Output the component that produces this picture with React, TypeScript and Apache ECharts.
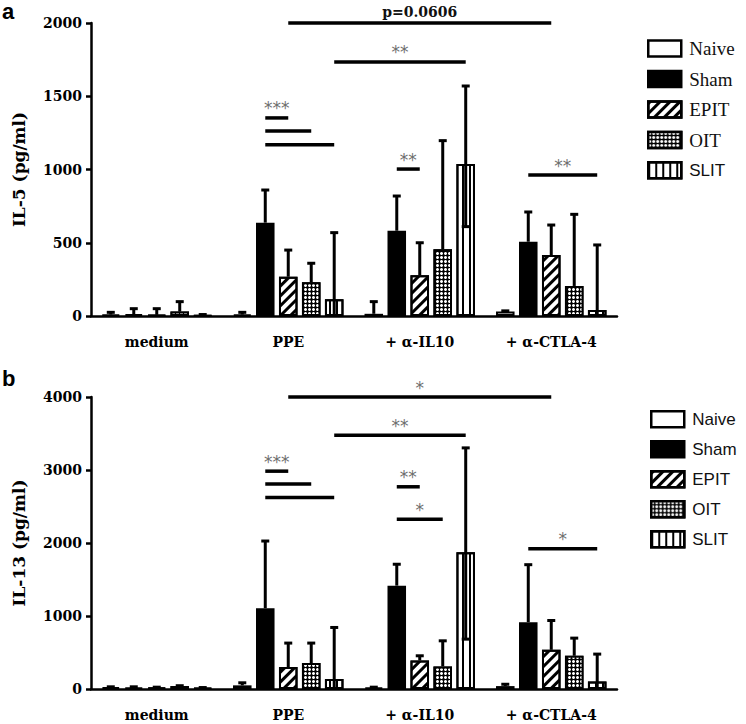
import React, { useEffect, useRef } from 'react';
import * as echarts from 'echarts';

// ---------- data ----------
const categories = ['medium', 'PPE', '+ α-IL10', '+ α-CTLA-4'];
const groupNames = ['Naive', 'Sham', 'EPIT', 'OIT', 'SLIT'];

// Panel a — IL-5 (pg/ml): bar heights (mean)
const il5Naive = [10, 10, 15, 30];
const il5Sham = [12, 637, 582, 507];
const il5Epit = [8, 268, 278, 416];
const il5Oit = [30, 230, 455, 205];
const il5Slit = [5, 114, 1038, 41];
// Panel a — upper end of error bars
const il5NaiveUp = [25, 25, 98, 35];
const il5ShamUp = [50, 860, 819, 710];
const il5EpitUp = [50, 450, 500, 621];
const il5OitUp = [98, 360, 1197, 694];
const il5SlitUp = [10, 569, 1570, 485];
// Panel a — lower end of error bars (visible in open SLIT bars)
const il5SlitLow = [0, 0, 610, 0];

// Panel b — IL-13 (pg/ml): bar heights (mean)
const il13Naive = [25, 50, 20, 40];
const il13Sham = [20, 1107, 1416, 916];
const il13Epit = [20, 301, 391, 537];
const il13Oit = [40, 355, 309, 455];
const il13Slit = [15, 137, 1873, 104];
// Panel b — upper end of error bars
const il13NaiveUp = [30, 85, 25, 65];
const il13ShamUp = [30, 2027, 1709, 1703];
const il13EpitUp = [25, 629, 455, 938];
const il13OitUp = [45, 629, 660, 697];
const il13SlitUp = [20, 843, 3303, 478];
// Panel b — lower end of error bars (visible in open SLIT bars)
const il13SlitLow = [0, 0, 683, 0];

// Significance bars, panel a
const sigAFromCat = [1, 1, 1, 1, 1, 2, 3];
const sigAFromBar = [2, 4, 1, 1, 1, 1, 1];
const sigAToCat = [3, 2, 1, 1, 1, 2, 3];
const sigAToBar = [2, 4, 2, 3, 4, 2, 4];
const sigAHeight = [2000, 1734, 1352, 1263, 1169, 1003, 962];
const sigALabel = ['p=0.0606', '**', '***', '', '', '**', '**'];

// Significance bars, panel b
const sigBFromCat = [1, 1, 1, 1, 1, 2, 2, 3];
const sigBFromBar = [2, 4, 1, 1, 1, 1, 1, 1];
const sigBToCat = [3, 2, 1, 1, 1, 2, 2, 3];
const sigBToBar = [2, 4, 2, 3, 4, 2, 3, 4];
const sigBHeight = [4000, 3477, 2984, 2807, 2625, 2770, 2324, 1922];
const sigBLabel = ['*', '**', '***', '', '', '**', '*', '*'];

// ---------- styles ----------
const CAT_GAP = 0.16;
const BAR_GAP = 0.24;
const NBARS = 5;
const SERIF = "'DejaVu Serif', 'Liberation Serif', serif";
const TIMES = "'Liberation Serif', serif";
const SANS = "'Liberation Sans', Arial, sans-serif";

const barStyles: any[] = [
  { color: '#ffffff', borderColor: '#000', borderWidth: 2 },
  { color: '#000000', borderColor: '#000', borderWidth: 2 },
  {
    color: '#ffffff', borderColor: '#000', borderWidth: 2,
    decal: { symbol: 'rect', symbolSize: 1, color: '#000', dashArrayX: [1, 0], dashArrayY: [3, 4], rotation: -Math.PI / 4 },
  },
  {
    color: '#000000', borderColor: '#000', borderWidth: 2,
    decal: { symbol: 'circle', symbolSize: 1, color: '#ffffff', dashArrayX: [3, 1], dashArrayY: [3, 1] },
  },
  {
    color: '#ffffff', borderColor: '#000', borderWidth: 2,
    decal: { symbol: 'rect', symbolSize: 1, color: '#000', dashArrayX: [2, 5], dashArrayY: [1, 0] },
  },
];

function barCenter(api: any, cat: number, bar: number) {
  const band = api.size([1, 0])[0];
  const group = band * (1 - CAT_GAP);
  const bw = group / (NBARS + (NBARS - 1) * BAR_GAP);
  return api.coord([cat, 0])[0] - group / 2 + bw / 2 + bar * bw * (1 + BAR_GAP);
}

function errRender(params: any, api: any) {
  const cat = api.value(0);
  const bar = api.value(1);
  const mean = api.value(2);
  const up = api.value(3);
  const low = api.value(4);
  const x = barCenter(api, cat, bar);
  const yUp = api.coord([cat, up])[1];
  const yLow = api.coord([cat, low])[1];
  const st = { stroke: '#000', lineWidth: 3 };
  const children: any[] = [
    { type: 'line', shape: { x1: x, y1: yLow, x2: x, y2: yUp }, style: st },
    { type: 'line', shape: { x1: x - 4, y1: yUp, x2: x + 4, y2: yUp }, style: st },
  ];
  if (low > 0 && low < mean) {
    children.push({ type: 'line', shape: { x1: x - 4, y1: yLow, x2: x + 4, y2: yLow }, style: st });
  }
  return { type: 'group', children };
}

function makeSigRender(labels: string[]) {
  return (params: any, api: any) => {
    const c1 = api.value(0), b1 = api.value(1), c2 = api.value(2), b2 = api.value(3), h = api.value(4);
    const x1 = barCenter(api, c1, b1);
    const x2 = barCenter(api, c2, b2);
    const y = api.coord([c1, h])[1];
    const label = labels[params.dataIndex];
    const children: any[] = [
      { type: 'line', shape: { x1, y1: y, x2, y2: y }, style: { stroke: '#000', lineWidth: 3.5 } },
    ];
    if (label) {
      const isP = label.startsWith('p');
      children.push({
        type: 'text',
        style: {
          text: label,
          x: (x1 + x2) / 2,
          y: y - (isP ? 4 : 1),
          align: 'center',
          verticalAlign: 'bottom',
          fill: isP ? '#111' : '#6e6e6e',
          font: isP ? `bold 14px ${SERIF}` : `17px 'DejaVu Sans', sans-serif`,
        },
      });
    }
    return { type: 'group', children };
  };
}

function errData(means: number[][], ups: number[][], slitLow: number[]) {
  const rows: number[][] = [];
  means.forEach((m, s) =>
    m.forEach((v, c) => rows.push([c, s, v, ups[s][c], s === 4 ? slitLow[c] : v]))
  );
  return rows;
}

function sigData(fc: number[], fb: number[], tc: number[], tb: number[], h: number[]) {
  return fc.map((_, i) => [fc[i], fb[i], tc[i], tb[i], h[i]]);
}

const meansA = [il5Naive, il5Sham, il5Epit, il5Oit, il5Slit];
const upsA = [il5NaiveUp, il5ShamUp, il5EpitUp, il5OitUp, il5SlitUp];
const meansB = [il13Naive, il13Sham, il13Epit, il13Oit, il13Slit];
const upsB = [il13NaiveUp, il13ShamUp, il13EpitUp, il13OitUp, il13SlitUp];

function xAxisCfg(gridIndex: number) {
  return {
    type: 'category',
    gridIndex,
    data: categories,
    axisLine: { lineStyle: { color: '#000', width: 2.5 } },
    axisTick: { alignWithLabel: true, length: 8, lineStyle: { color: '#000', width: 2.5 } },
    axisLabel: { color: '#000', fontFamily: SERIF, fontWeight: 'bold', fontSize: 14, margin: 19 },
  };
}

function yAxisCfg(gridIndex: number, max: number, interval: number, name: string) {
  return {
    type: 'value',
    gridIndex,
    min: 0,
    max,
    interval,
    name,
    nameLocation: 'middle',
    nameGap: 64,
    nameTextStyle: { color: '#000', fontFamily: SERIF, fontWeight: 'bold', fontSize: 17 },
    splitLine: { show: false },
    axisLine: { show: true, lineStyle: { color: '#000', width: 2.5 } },
    axisTick: { show: true, length: 5, lineStyle: { color: '#000', width: 2.5 } },
    axisLabel: {
      color: '#000', fontFamily: SERIF, fontWeight: 'bold', fontSize: 14, margin: 9,
      formatter: (v: number) => String(v),
    },
  };
}

const serifLegendText = { fontFamily: TIMES, fontSize: 19, color: '#111' };
const sansLegendText = { fontFamily: SANS, fontSize: 17, color: '#111' };

function legendCfg(top: number, left: number, serifNames: boolean) {
  return {
    orient: 'vertical',
    left,
    top,
    icon: 'rect',
    itemWidth: 33,
    itemHeight: 16,
    itemGap: 11.5,
    selectedMode: false,
    itemStyle: { borderColor: '#000', borderWidth: 2.5 },
    textStyle: { ...(serifNames ? serifLegendText : sansLegendText), padding: [0, 0, 0, 3] },
    data: groupNames.map((n) => ({
      name: n,
      textStyle: serifNames && n !== 'SLIT' ? serifLegendText : sansLegendText,
    })),
  };
}

function barSeries(means: number[][], idx: number) {
  return means.map((m, s) => ({
    type: 'bar',
    name: groupNames[s],
    xAxisIndex: idx,
    yAxisIndex: idx,
    data: m,
    barGap: `${BAR_GAP * 100}%`,
    barCategoryGap: `${CAT_GAP * 100}%`,
    itemStyle: barStyles[s],
    z: 2,
  }));
}

const option: any = {
  animation: false,
  backgroundColor: '#ffffff',
  grid: [
    { left: 91, right: 129, top: 23, height: 293 },
    { left: 91, right: 129, top: 397, height: 292 },
  ],
  xAxis: [xAxisCfg(0), xAxisCfg(1)],
  yAxis: [yAxisCfg(0, 2000, 500, 'IL-5 (pg/ml)'), yAxisCfg(1, 4000, 1000, 'IL-13 (pg/ml)')],
  legend: [legendCfg(34, 642, true), legendCfg(405, 645, false)],
  graphic: [
    { type: 'text', left: 2, top: 0, style: { text: 'a', font: `bold 22px ${SANS}`, fill: '#000' } },
    { type: 'text', left: 2, top: 367, style: { text: 'b', font: `bold 22px ${SANS}`, fill: '#000' } },
  ],
  series: [
    ...barSeries(meansA, 0),
    ...barSeries(meansB, 1),
    {
      type: 'custom', xAxisIndex: 0, yAxisIndex: 0, z: 3, clip: false,
      renderItem: errRender, encode: { x: 0, y: 3 }, data: errData(meansA, upsA, il5SlitLow),
    },
    {
      type: 'custom', xAxisIndex: 1, yAxisIndex: 1, z: 3, clip: false,
      renderItem: errRender, encode: { x: 0, y: 3 }, data: errData(meansB, upsB, il13SlitLow),
    },
    {
      type: 'custom', xAxisIndex: 0, yAxisIndex: 0, z: 4, clip: false,
      renderItem: makeSigRender(sigALabel), encode: { x: 0, y: 4 },
      data: sigData(sigAFromCat, sigAFromBar, sigAToCat, sigAToBar, sigAHeight),
    },
    {
      type: 'custom', xAxisIndex: 1, yAxisIndex: 1, z: 4, clip: false,
      renderItem: makeSigRender(sigBLabel), encode: { x: 0, y: 4 },
      data: sigData(sigBFromCat, sigBFromBar, sigBToCat, sigBToBar, sigBHeight),
    },
  ],
};

export default function App() {
  const ref = useRef<HTMLDivElement>(null);
  useEffect(() => {
    const chart = echarts.init(ref.current!, null, { renderer: 'svg' });
    chart.setOption(option);
    return () => chart.dispose();
  }, []);
  return (
    <div
      ref={ref}
      style={{ position: 'fixed', left: 0, top: 0, width: 746, height: 724, background: '#fff' }}
    />
  );
}
